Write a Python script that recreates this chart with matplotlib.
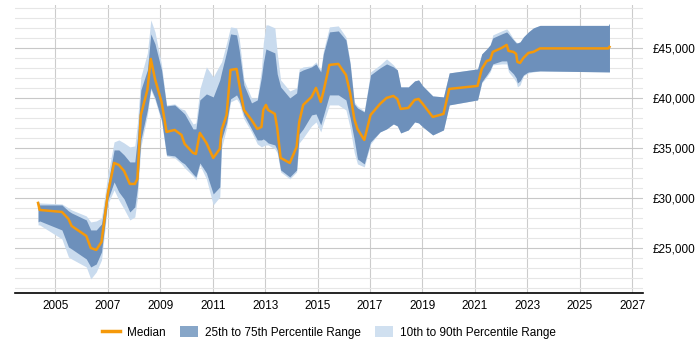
import numpy as np
import matplotlib
matplotlib.use("Agg")
import matplotlib.pyplot as plt
from matplotlib.patches import Patch
from matplotlib.lines import Line2D
from matplotlib.ticker import MultipleLocator, FuncFormatter

# time as decimal years, salaries in GBP
years = [
    2004.34, 2004.40, 2005.25, 2005.50, 2005.62, 2006.18, 2006.35, 2006.56, 2006.76,
    2007.00, 2007.24, 2007.42, 2007.62, 2007.84, 2008.03, 2008.13, 2008.26, 2008.51,
    2008.64, 2008.80, 2009.05, 2009.24, 2009.55, 2009.81, 2009.93, 2010.25, 2010.36,
    2010.51, 2010.76, 2011.02, 2011.27, 2011.34, 2011.53, 2011.68, 2011.91, 2012.01,
    2012.19, 2012.48, 2012.70, 2012.86, 2012.93, 2013.03, 2013.11, 2013.37, 2013.46,
    2013.59, 2013.94, 2014.20, 2014.30, 2014.45, 2014.77, 2014.94, 2015.12, 2015.22,
    2015.45, 2015.79, 2016.08, 2016.24, 2016.40, 2016.52, 2016.78, 2017.02, 2017.38,
    2017.63, 2017.89, 2018.04, 2018.17, 2018.46, 2018.70, 2018.85, 2019.01, 2019.39,
    2019.80, 2020.02, 2021.10, 2021.26, 2021.45, 2021.58, 2021.68, 2022.02, 2022.21,
    2022.28, 2022.47, 2022.57, 2022.62, 2022.72, 2022.85, 2023.04, 2023.23, 2023.48,
    2026.09, 2026.13,
]
p10 = [
    27300, 27300, 25900, 24100, 23900, 23100, 21900, 22600, 23800,
    29400, 30800, 29800, 28900, 27800, 28100, 30000, 35100, 38300,
    40800, 39800, 37600, 34200, 34000, 33400, 33000, 32200, 31800,
    33300, 31900, 29300, 30100, 35000, 37000, 39600, 39900, 39500,
    37900, 36600, 35400, 35100, 35200, 35300, 35300, 34900, 34500,
    32600, 31900, 32600, 35500, 36000, 37200, 37600, 36600, 37500,
    39300, 39300, 38800, 37000, 34500, 33400, 33100, 35400, 36600,
    36900, 37400, 37200, 36500, 36800, 37600, 37500, 37100, 36300,
    36800, 39300, 39800, 41500, 42100, 42600, 43300, 43400, 43400,
    42600, 42000, 41600, 41100, 41300, 42200, 42500, 42600, 42700,
    42600, 42600,
]
p25 = [
    27600, 27700, 26800, 25100, 24900, 23900, 23100, 23400, 24600,
    29800, 31600, 30600, 29900, 28600, 29100, 31000, 35800, 38800,
    41000, 40000, 37800, 34300, 34200, 33600, 33400, 32400, 32100,
    33500, 32500, 30400, 31100, 35900, 37500, 39900, 40300, 39800,
    38300, 36900, 35800, 35800, 35900, 35700, 35500, 35300, 34800,
    32800, 32100, 32800, 36400, 36900, 38300, 38400, 37300, 38200,
    40300, 40300, 39800, 38000, 35800, 33900, 33400, 35600, 36600,
    36900, 37400, 37200, 36500, 36800, 37600, 37500, 37100, 36300,
    36800, 39300, 39800, 41600, 42300, 42800, 43400, 43700, 43700,
    42900, 42400, 42000, 41500, 41700, 42300, 42600, 42650, 42700,
    42600, 42600,
]
median = [
    29500, 28800, 28600, 27900, 27200, 26200, 25000, 24800, 25600,
    30400, 33500, 33300, 32700, 31400, 31400, 31900, 38300, 40800,
    43900, 41900, 39600, 36600, 36800, 36300, 35400, 34500, 34400,
    36500, 35500, 34000, 34900, 36800, 38300, 42800, 42900, 41400,
    38800, 37800, 36900, 37100, 38800, 39300, 38800, 38400, 37000,
    34000, 33500, 35100, 37600, 39300, 40100, 41000, 39600, 40600,
    43300, 43400, 42300, 40500, 37900, 36900, 35800, 38300, 39400,
    40000, 40200, 39900, 38900, 39000, 39800, 39900, 39400, 38100,
    38400, 40900, 41200, 42900, 43700, 43800, 44600, 45000, 45300,
    44700, 44600, 44400, 43600, 43500, 44000, 44500, 44600, 44950,
    44950, 45100,
]
p75 = [
    29600, 29300, 29300, 28700, 28500, 27800, 26800, 26800, 27400,
    31300, 34800, 34800, 34300, 33600, 33600, 36000, 40800, 42800,
    46400, 45400, 42800, 39200, 39300, 38700, 38400, 36900, 36900,
    39800, 40400, 40100, 41800, 42600, 44600, 46400, 46300, 44800,
    41300, 39500, 39800, 42100, 43500, 44900, 44800, 44500, 42400,
    41100, 40000, 40500, 42600, 42800, 43100, 43400, 42600, 44400,
    46600, 46700, 45800, 43400, 39400, 39000, 38600, 42300, 43000,
    43400, 43100, 42800, 41100, 41100, 41700, 41800, 41200, 40200,
    40100, 42500, 42900, 44400, 44900, 45300, 46000, 46400, 46600,
    46400, 45800, 45500, 45500, 45600, 46100, 46600, 47000, 47250,
    47250, 47450,
]
p90 = [
    29800, 29500, 29400, 29000, 28800, 28200, 27600, 27700, 28000,
    32300, 35600, 35800, 35500, 35100, 35200, 37500, 42100, 44500,
    47800, 46600, 43300, 39300, 39400, 38900, 38800, 37400, 37500,
    40900, 43100, 42100, 43300, 43600, 45500, 47100, 47000, 46000,
    41800, 40000, 40000, 42900, 45500, 47300, 47300, 47000, 44500,
    41800, 40700, 41000, 42900, 43100, 43200, 43600, 42800, 44700,
    47100, 47200, 46100, 43600, 39600, 39200, 38700, 42600, 43300,
    43900, 43300, 42800, 41100, 41100, 41700, 41800, 41200, 40200,
    40100, 42500, 42900, 44400, 44900, 45300, 46300, 46700, 46900,
    46700, 45900, 45600, 45500, 45600, 46100, 46600, 47000, 47250,
    47250, 47450,
]
year_ticks = [2005, 2007, 2009, 2011, 2013, 2015, 2017, 2019, 2021, 2023, 2025, 2027]

plt.rcParams["font.family"] = ["Liberation Sans", "DejaVu Sans"]

fig = plt.figure(figsize=(7, 3.5), dpi=100)
ax = fig.add_axes([0.021, 0.163, 0.898, 0.823])

light = "#c9dbee"
dark = "#6d90bb"
orange = "#f5990a"

ax.fill_between(years, p10, p90, color=light, linewidth=0, zorder=2)
ax.fill_between(years, p25, p75, color=dark, linewidth=0, zorder=3)
ax.plot(years, median, color=orange, linewidth=1.8, zorder=4)

ax.set_xlim(2003.45, 2027.42)
ax.set_ylim(20500, 49300)

ax.set_xticks(year_ticks)
ax.set_xticklabels([str(y) for y in year_ticks])

ax.yaxis.set_major_locator(MultipleLocator(5000))
ax.yaxis.set_minor_locator(MultipleLocator(1000))
ax.yaxis.set_major_formatter(FuncFormatter(lambda v, p: "£{:,.0f}".format(v)))
ax.yaxis.tick_right()

ax.grid(which="major", axis="x", color="#cccccc", linewidth=0.8, zorder=0)
ax.grid(which="major", axis="y", color="#c8c8c8", linewidth=0.8, zorder=0)
ax.grid(which="minor", axis="y", color="#e6e6e6", linewidth=0.8, zorder=0)
ax.set_axisbelow(True)

for s in ["top", "left", "right"]:
    ax.spines[s].set_visible(False)
ax.spines["bottom"].set_color("black")
ax.spines["bottom"].set_linewidth(1.2)

ax.tick_params(axis="x", which="major", length=0, labelsize=8.5, pad=5)
ax.tick_params(axis="y", which="both", length=0, labelsize=8.5, pad=7)

handles = [
    Line2D([0], [0], color=orange, linewidth=2.5),
    Patch(facecolor="#87a6c8", edgecolor="none"),
    Patch(facecolor="#d0e0f0", edgecolor="none"),
]
labels = ["Median", "25th to 75th Percentile Range", "10th to 90th Percentile Range"]
fig.legend(handles, labels, loc="center", bbox_to_anchor=(0.47, 0.05), ncol=3,
           frameon=False, fontsize=8.5, handlelength=1.5, handleheight=1.1,
           columnspacing=1.2, handletextpad=0.6)

fig.savefig("out.png", dpi=100)
